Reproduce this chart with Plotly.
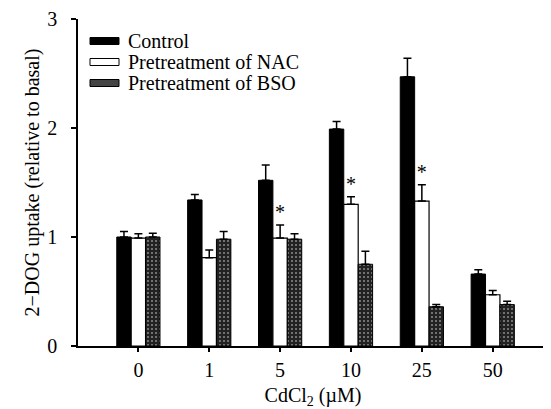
import plotly.graph_objects as go

categories = ["0", "1", "5", "10", "25", "50"]
control = [1.00, 1.34, 1.52, 1.99, 2.47, 0.66]
control_err = [0.05, 0.05, 0.14, 0.07, 0.17, 0.04]
nac = [0.99, 0.81, 0.99, 1.30, 1.33, 0.47]
nac_err = [0.04, 0.07, 0.12, 0.07, 0.15, 0.04]
bso = [1.00, 0.98, 0.98, 0.75, 0.36, 0.38]
bso_err = [0.035, 0.07, 0.05, 0.12, 0.02, 0.03]
significant = [False, False, True, True, True, False]
series_names = ["Control", "Pretreatment of NAC", "Pretreatment of BSO"]

FONT = "Liberation Serif"
idx = list(range(len(categories)))
OFF = 8  # page body margin
W, H = 551 - OFF, 409 - OFF
ML, MR, MT, MB = 78 - OFF, 3, 19 - OFF, 63

styles = [
    dict(color="black", line=dict(color="black", width=1)),
    dict(color="white", line=dict(color="black", width=1.2)),
    dict(color="#2a2a2a", line=dict(color="black", width=1),
         pattern=dict(shape=".", bgcolor="#222222", fgcolor="#8c8c8c",
                      size=4, solidity=0.2, fillmode="replace")),
]
swatch_fill = ["black", "white", "#444444"]

fig = go.Figure()
for name, vals, errs, st in zip(series_names, [control, nac, bso],
                                [control_err, nac_err, bso_err], styles):
    fig.add_trace(go.Bar(
        x=idx, y=vals, name=name, marker=st, showlegend=False,
        error_y=dict(type="data", array=errs, arrayminus=[0] * len(idx),
                     symmetric=False, color="black", thickness=1.5, width=4),
    ))

# significance asterisks above NAC bars
sx = [i for i, s in zip(idx, significant) if s]
sy = [nac[i] + nac_err[i] + 0.1 for i in sx]
fig.add_trace(go.Scatter(
    x=sx, y=sy, mode="text", text=["*"] * len(sx), textposition="middle center",
    textfont=dict(family=FONT, size=20, color="black"),
    showlegend=False, hoverinfo="skip",
))

# legend (drawn in paper coordinates; positions given in page pixels)
pw, ph = W - ML - MR, H - MT - MB
def px_x(p):
    return (p - OFF - ML) / pw
def px_y(p):
    return 1 - (p - OFF - MT) / ph
row_y = [41, 62, 83]
for name, fill, ry in zip(series_names, swatch_fill, row_y):
    fig.add_shape(type="rect", xref="paper", yref="paper",
                  x0=px_x(90), x1=px_x(119), y0=px_y(ry + 3.5), y1=px_y(ry - 3.5),
                  fillcolor=fill, line=dict(color="black", width=1))
    fig.add_annotation(xref="paper", yref="paper", x=px_x(126), y=px_y(ry),
                       xanchor="left", yanchor="middle", text=name, showarrow=False,
                       font=dict(family=FONT, size=20, color="black"))

fig.update_layout(
    width=W, height=H,
    margin=dict(l=ML, r=MR, t=MT, b=MB, autoexpand=False),
    paper_bgcolor="white", plot_bgcolor="white",
    barmode="group", bargap=0.39, bargroupgap=0,
    font=dict(family=FONT, size=20, color="black"),
    showlegend=False,
)
fig.update_xaxes(
    range=[-0.852, 5.78], tickmode="array", tickvals=idx, ticktext=categories,
    showline=True, linecolor="black", linewidth=1.5, mirror=False,
    ticks="outside", ticklen=4, tickwidth=1.5, tickcolor="black",
    showgrid=False, zeroline=False, automargin=False,
    tickfont=dict(family=FONT, size=20), ticklabelstandoff=1,
    title=dict(text="CdCl<sub>2</sub> (µM)", font=dict(family=FONT, size=20), standoff=8),
)
fig.update_yaxes(
    range=[0, 3], tickvals=[0, 1, 2, 3],
    showline=True, linecolor="black", linewidth=1.5,
    ticks="outside", ticklen=5, tickwidth=1.5, tickcolor="black",
    showgrid=False, zeroline=False, automargin=False, ticklabeloverflow="allow",
    tickfont=dict(family=FONT, size=20), ticklabelstandoff=10,
    title=dict(text="2−DOG uptake (relative to basal)", font=dict(family=FONT, size=20), standoff=2),
)

fig.write_html("out.html")
